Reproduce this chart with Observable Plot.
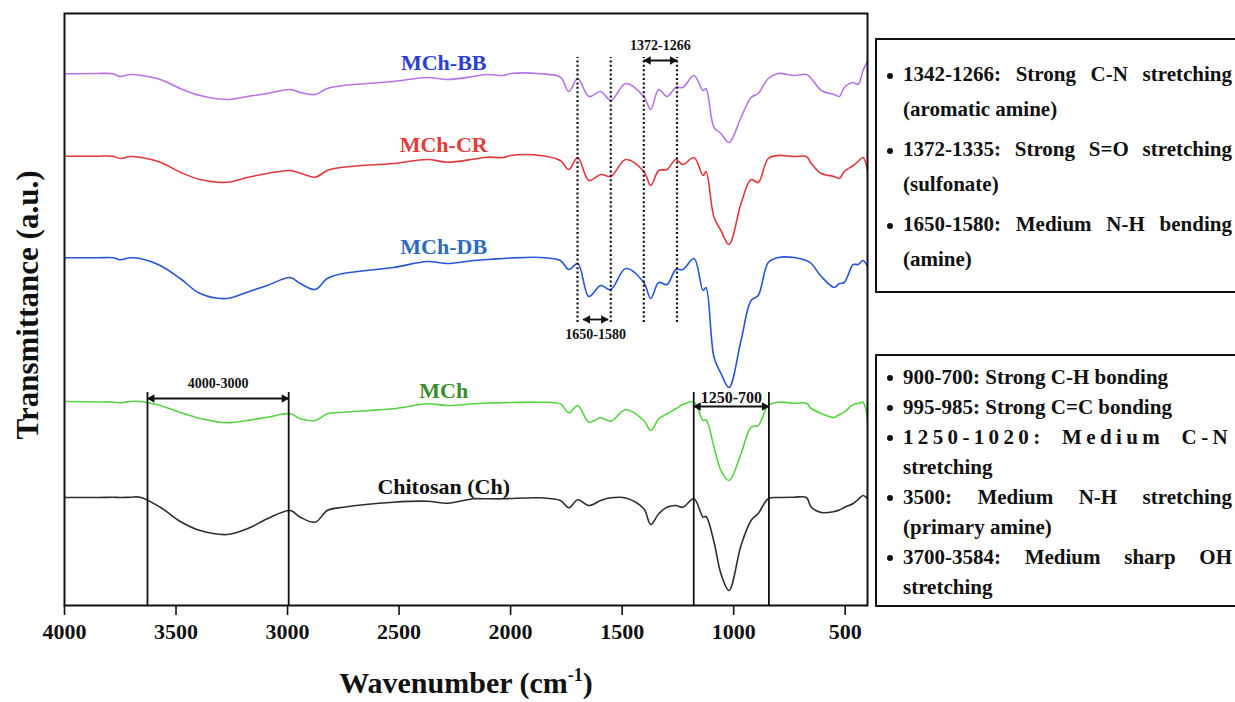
<!DOCTYPE html>
<html>
<head>
<meta charset="utf-8">
<script src="https://cdn.jsdelivr.net/npm/d3@7"></script>
<script src="https://cdn.jsdelivr.net/npm/@observablehq/plot@0.6"></script>
<style>
  body { margin: 0; background: #fff; font-family: "Liberation Serif", "Times New Roman", serif; }
  #wrap { position: relative; width: 1235px; height: 702px; overflow: hidden; background: #fff; }
  #chart { position: absolute; left: 0; top: 0; }
  .box { position: absolute; left: 875px; width: 362px; border: 2px solid #111; box-sizing: border-box;
         background: #fff; font-weight: bold; font-size: 21px; color: #111; padding: 0 3px 0 10px; }
  #box1 { top: 38px; height: 255px; padding-top: 17px; }
  #box2 { top: 354px; height: 253px; padding-top: 6px; }
  .item { display: flex; }
  .bullet { width: 16px; flex: none; position: relative; }
  .bullet::before { content: ""; position: absolute; left: 0; width: 6px; height: 6px; border-radius: 50%; background: #111; }
  #box1 .bullet::before { top: 16px; }
  #box2 .bullet::before { top: 13px; }
  .lines { width: 329px; }
  .ln { white-space: nowrap; }
  .ln.full { text-align: justify; text-align-last: justify; white-space: normal; }
  #box1 .ln { height: 35px; line-height: 35px; }
  #box1 .item + .item { margin-top: 5px; }
  #box2 .ln { height: 30px; line-height: 30px; }
</style>
</head>
<body>
<div id="wrap">
  <div id="chart"></div>
  <div class="box" id="box1"></div>
  <div class="box" id="box2"></div>
</div>
<script>
// FTIR spectra (transmittance, arbitrary units, curves stacked with offsets)
const wavenumbers = [4000, 3850, 3782, 3751, 3706, 3661, 3571, 3481, 3392, 3270,
  3181, 3091, 2988, 2943, 2876, 2822, 2750, 2526, 2373, 2283,
  2166, 2104, 2032, 2000, 1866, 1777, 1739, 1699, 1649, 1596,
  1551, 1484, 1403, 1372, 1336, 1299, 1259, 1228, 1178, 1137,
  1124, 1088, 1057, 1021, 967, 922, 890, 845, 800, 728,
  674, 652, 607, 549, 526, 504, 464, 442, 420, 400];

const chitosan = [108, 108, 108.2, 108, 108.2, 108.3, 98.3, 84, 75, 71,
  76.7, 86.7, 95, 88.3, 83.3, 95, 98.3, 103.3, 104.3, 102.3,
  106.7, 106.7, 106.7, 107, 107.7, 105, 97.7, 105.7, 100, 105,
  107.7, 107.5, 96.7, 81, 91.7, 98.3, 100, 98.3, 106.7, 88.3,
  89, 63.3, 31.7, 15, 60, 85, 92, 106.7, 108, 108.3,
  108, 98.3, 93, 94, 95.5, 98, 102, 106, 110, 106.7];

const mch = [204, 203.5, 203.5, 202.7, 204, 204, 200, 193, 187, 182.7,
  185, 188.3, 191.7, 186.7, 185, 191.7, 193.3, 196.7, 201.7, 200,
  201.7, 202.5, 202.7, 203, 203.3, 201.7, 192.7, 200, 183.3, 187.7,
  184.3, 195.7, 185, 175, 186.7, 191.7, 196.7, 201, 203.3, 185,
  185.7, 158.3, 135, 125, 151.7, 178.3, 180, 200, 203.3, 202.3,
  202.3, 197, 192, 188, 191, 193.3, 201, 202, 203.3, 186];

const mchDB = [347.7, 347.7, 347.7, 345.7, 347.7, 347, 340, 327, 312, 307,
  313.3, 320, 328, 322, 316, 327, 332, 338, 344, 342,
  345, 346, 347, 347.5, 348, 345, 336, 342, 309, 320,
  316, 337, 323, 307, 323, 321, 336, 336, 347, 315,
  318, 248, 232, 218, 265, 305, 310, 343, 348, 348,
  345, 342, 329, 318, 322, 323, 341, 341, 345, 339];

const mchCR = [449.3, 449.3, 449.3, 447, 449, 448.3, 443.3, 433.3, 426, 423.3,
  428, 432, 435, 432.3, 428.3, 435, 438.3, 442, 446, 443.3,
  446.3, 448.3, 448, 450, 450, 445, 436, 448, 425, 431,
  429, 446, 434, 420, 435, 436, 446, 441, 448, 430,
  434, 388, 375, 361, 402, 426, 423, 447, 450, 449,
  449, 442, 432, 429, 427, 434, 440, 444, 448, 435];

const mchBB = [531.7, 532, 531.7, 529, 531, 530.3, 526, 517, 510, 506,
  509, 512, 516, 513, 511, 517, 520, 524, 528, 526,
  529, 531, 530, 532, 531.7, 528.3, 514, 527, 509, 514,
  505, 522, 509, 496, 516, 509, 518, 518, 530, 515,
  517, 478, 472, 463, 488, 508, 512, 527, 532, 530,
  531, 527, 515, 511, 509, 518, 523, 521, 535, 544];

const seriesNames = ["Chitosan (Ch)", "MCh", "MCh-DB", "MCh-CR", "MCh-BB"];
const seriesValues = [chitosan, mch, mchDB, mchCR, mchBB];
const lineColors = ["#2e2e2e", "#55d342", "#2656d6", "#e0383b", "#b673e8"];
const labelColors = ["#111111", "#3c8c2c", "#2e6cb8", "#e23c3c", "#2b3fd4"];

const xTicks = [4000, 3500, 3000, 2500, 2000, 1500, 1000, 500];

// band guides (wavenumbers)
const dottedGuides = [1700, 1551, 1403, 1254];
const solidGuides = [3628, 2995, 1179, 842];

// band range arrows
const arrowLabels = ["4000-3000", "1250-700", "1650-1580", "1372-1266"];
const arrowFrom = [3628, 1179, 1675, 1403];
const arrowTo = [2995, 842, 1563, 1254];
const arrowLevel = [207, 199, 286, 545];

// band assignment notes
const notesUpper = [
  ["1342-1266: Strong C-N stretching", "(aromatic amine)"],
  ["1372-1335: Strong S=O stretching", "(sulfonate)"],
  ["1650-1580: Medium N-H bending", "(amine)"]
];
const notesLower = [
  ["900-700: Strong C-H bonding"],
  ["995-985: Strong C=C bonding"],
  ["1250-1020: Medium C-N", "stretching"],
  ["3500: Medium N-H stretching", "(primary amine)"],
  ["3700-3584: Medium sharp OH", "stretching"]
];

const serif = '"Liberation Serif", "Times New Roman", serif';

const marks = [];
seriesNames.forEach((name, i) => {
  const rows = wavenumbers.map((w, j) => ({wn: w, t: seriesValues[i][j]}));
  marks.push(Plot.line(rows, {x: "wn", y: "t", stroke: lineColors[i], strokeWidth: 1.6, curve: "catmull-rom"}));
  marks.push(Plot.text([name], {x: 2300, y: seriesValues[i][0], dy: -11, text: d => d,
    fill: labelColors[i], fontSize: 22, fontWeight: "bold"}));
});

marks.push(Plot.ruleX(dottedGuides, {y1: 283, y2: 548, stroke: "#111", strokeWidth: 2.2, strokeDasharray: "2 2.4"}));
marks.push(Plot.ruleX(solidGuides, {y1: 0, y2: 213, stroke: "#111", strokeWidth: 1.8}));

const arrows = arrowLabels.map((label, i) => ({label, from: arrowFrom[i], to: arrowTo[i], level: arrowLevel[i]}));
marks.push(Plot.link(arrows, {x1: "from", x2: "to", y1: "level", y2: "level", stroke: "#111", strokeWidth: 1.8}));
// filled arrowheads at both ends of each range
marks.push(Plot.dot(arrows, {x: "to", y: "level", symbol: "triangle", r: 3.2, rotate: 90, dx: -4.5, fill: "#111", stroke: "none"}));
marks.push(Plot.dot(arrows, {x: "from", y: "level", symbol: "triangle", r: 3.2, rotate: -90, dx: 4.5, fill: "#111", stroke: "none"}));
const labelShift = [-15, -9, 15, -15];
const labelSize = [14, 16, 14, 14];
arrows.forEach((a, i) => {
  marks.push(Plot.text([a], {x: d => (d.from + d.to) / 2, y: "level", text: "label", dy: labelShift[i],
    fontSize: labelSize[i], fontWeight: "bold", fill: "#111"}));
});

marks.push(Plot.frame({stroke: "#111", strokeWidth: 2}));
marks.push(Plot.axisX(xTicks, {tickSize: 10, tickPadding: 8, tickFormat: d => String(d), fontSize: 22,
  fontWeight: "bold", label: null, anchor: "bottom", strokeWidth: 1.6}));

const svg = Plot.plot({
  width: 870,
  height: 702,
  marginTop: 13,
  marginRight: 3,
  marginBottom: 97,
  marginLeft: 64,
  x: {domain: [4000, 400]},
  y: {domain: [0, 592], axis: null},
  style: {fontFamily: serif, background: "white", color: "#111"},
  marks
});

const s = d3.select(svg);
s.selectAll('g[aria-label="x-axis tick label"] text').attr("font-weight", "bold").attr("fill", "#111");

// axis titles
s.append("text")
  .attr("transform", "translate(27,305) rotate(-90)")
  .attr("text-anchor", "middle")
  .attr("dominant-baseline", "central")
  .attr("font-family", serif)
  .attr("font-size", 31)
  .attr("font-weight", "bold")
  .attr("fill", "#111")
  .text("Transmittance (a.u.)");

const xt = s.append("text")
  .attr("x", 466)
  .attr("y", 693)
  .attr("text-anchor", "middle")
  .attr("font-family", serif)
  .attr("font-size", 30)
  .attr("font-weight", "bold")
  .attr("fill", "#111");
xt.append("tspan").text("Wavenumber (cm");
xt.append("tspan").attr("dy", -12).attr("font-size", 18).text("-1");
xt.append("tspan").attr("dy", 12).text(")");

document.getElementById("chart").append(svg);

// note boxes
function fillBox(id, notes) {
  const box = document.getElementById(id);
  notes.forEach(lines => {
    const item = document.createElement("div");
    item.className = "item";
    const b = document.createElement("div");
    b.className = "bullet";
    const col = document.createElement("div");
    col.className = "lines";
    item.append(b, col);
    box.append(item);
    lines.forEach((text, k) => {
      const ln = document.createElement("div");
      ln.className = "ln";
      ln.textContent = text;
      col.append(ln);
      if (k < lines.length - 1) {
        // justified line; sparse lines are spread letter by letter
        const probe = document.createElement("span");
        probe.style.whiteSpace = "nowrap";
        probe.textContent = text;
        ln.textContent = "";
        ln.append(probe);
        const natural = probe.getBoundingClientRect().width;
        ln.textContent = text;
        ln.classList.add("full");
        const spaces = (text.match(/ /g) || []).length;
        const target = col.getBoundingClientRect().width;
        if (spaces > 0 && (target - natural) / spaces > 35) {
          ln.style.letterSpacing = ((target - natural) / text.length * 0.85).toFixed(2) + "px";
        }
      }
    });
  });
}
fillBox("box1", notesUpper);
fillBox("box2", notesLower);
</script>
</body>
</html>
